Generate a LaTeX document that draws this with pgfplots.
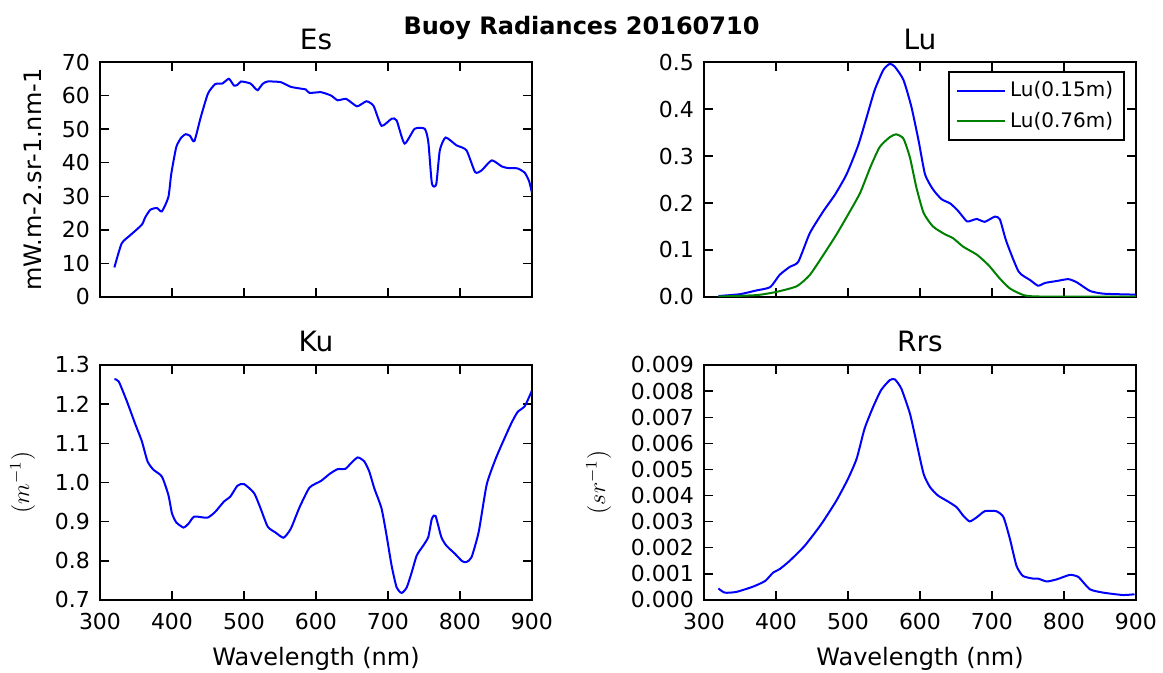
\documentclass[border=0pt]{standalone}
\usepackage{fontspec}
\setmainfont{DejaVu Sans}
\usepackage{pgfplots}
\pgfplotsset{compat=1.18}

\definecolor{mplblue}{rgb}{0,0,1}
\definecolor{mplgreen}{rgb}{0,0.5,0}

\pgfplotsset{
  panel/.style={
    scale only axis,
    width=216pt, height=117.5pt,
    anchor=south west,
    axis line style={black, line width=0.9pt},
    tick align=inside,
    tick pos=both,
    major tick length=4.5pt,
    every tick/.style={black, line width=0.7pt},
    xmin=300, xmax=900,
    xtick={300,400,...,900},
    ticklabel style={font=\fontsize{11}{13}\selectfont},
    /pgf/number format/assume math mode=true,
    every axis title shift=0pt,
    title style={font=\fontsize{14}{16}\selectfont, anchor=base, yshift=6.5pt},
    label style={font=\fontsize{12}{14}\selectfont},
    xticklabel style={/pgf/number format/1000 sep={}, yshift=-3pt},
    yticklabel style={xshift=-1.5pt},
    xlabel style={yshift=-2pt},
    ylabel style={yshift=3pt},
    every axis plot/.append style={line width=1pt, smooth, tension=0.35},
  }
}

\begin{document}
\begin{tikzpicture}[x=1pt,y=1pt]
\useasboundingbox (0,0) rectangle (581.5,336.5);

\node[anchor=base, font=\bfseries\fontsize{12}{14}\selectfont] at (290.75,319) {Buoy Radiances 20160710};

% Es
\begin{axis}[panel, at={(50pt,188pt)}, title={Es},
  ymin=0, ymax=70, ytick={0,10,...,70},
  xticklabels={},
  ylabel={mW.m-2.sr-1.nm-1}]
\addplot[mplblue] coordinates {
(320,8.8)(330,15.9)(342,18.4)(358,21.5)(363,23.8)(370,26)(379,26.5)(386,25.5)(395,29.8)(399,36.7)(406,44.7)(413,47.5)(419,48.5)(425,48)(431,46.4)(440,53.6)(450,60.6)(460,63.4)(470,63.6)(479,65)(486,63)(491,63.2)(496,64.2)(509,63.6)(514,62.5)(519,61.6)(526,63.5)(533,64.2)(551,64)(565,62.6)(581,62)(586,61.8)(591,60.8)(607,61)(621,60)(630,58.6)(642,59)(657,56.8)(670,58.3)(680,56.9)(691,51)(705,53.1)(712,52.6)(723,45.7)(737,50.1)(751,50.1)(756,46.2)(761,33.8)(767,33.6)(772,43.7)(780,47.5)(795,45.2)(809,43.7)(821,37.2)(830,37.7)(844,40.7)(858,38.9)(867,38.4)(880,38.3)(890,37)(896,34.5)(900,31)
};
\end{axis}

% Lu
\begin{axis}[panel, at={(352pt,188pt)}, title={Lu},
  ymin=0, ymax=0.5, ytick={0,0.1,...,0.5},
  yticklabel style={/pgf/number format/.cd, fixed, fixed zerofill, precision=1},
  xticklabels={},
  legend style={at={(1,1)}, anchor=north east, xshift=-5.5pt, yshift=-4.5pt,
    draw=black, line width=0.8pt, font=\fontsize{10}{12}\selectfont,
    inner xsep=3.5pt, inner ysep=3pt, row sep=2pt},
  legend cell align=left,
  legend image code/.code={\draw[#1, line width=1pt] (0pt,0pt) -- (16pt,0pt);
    \path (0pt,0pt) -- (24pt,0pt);}]
\addplot[mplblue] coordinates {
(320,0.002)(350,0.006)(373,0.014)(392,0.021)(405,0.047)(419,0.064)(431,0.075)(447,0.136)(466,0.183)(482,0.218)(498,0.261)(514,0.322)(526,0.383)(537,0.44)(549,0.483)(558,0.496)(565,0.49)(577,0.462)(588,0.405)(598,0.333)(607,0.261)(618,0.229)(630,0.208)(642,0.199)(653,0.183)(665,0.161)(672,0.163)(679,0.166)(690,0.16)(704,0.171)(711,0.165)(720,0.118)(737,0.054)(753,0.036)(764,0.024)(774,0.03)(790,0.034)(806,0.038)(818,0.031)(836,0.013)(855,0.007)(900,0.005)
};
\addlegendentry{Lu(0.15m)}
\addplot[mplgreen] coordinates {
(320,0.001)(373,0.004)(401,0.011)(429,0.023)(447,0.047)(466,0.09)(484,0.133)(503,0.183)(517,0.222)(531,0.276)(544,0.319)(558,0.34)(567,0.346)(577,0.337)(586,0.297)(595,0.233)(605,0.179)(618,0.15)(634,0.134)(646,0.125)(660,0.107)(679,0.09)(695,0.068)(711,0.039)(725,0.018)(744,0.004)(767,0.001)(900,0.001)
};
\addlegendentry{Lu(0.76m)}
\end{axis}

% Ku
\begin{axis}[panel, at={(50pt,36.5pt)}, title={Ku},
  ymin=0.7, ymax=1.3, ytick={0.7,0.8,...,1.3},
  yticklabel style={/pgf/number format/.cd, fixed, fixed zerofill, precision=1},
  xlabel={Wavelength (nm)},
  ylabel={$(m^{-1})$}]
\addplot[mplblue] coordinates {
(320,1.264)(326,1.258)(337,1.209)(349,1.149)(358,1.106)(366,1.054)(374,1.033)(386,1.015)(395,0.968)(400,0.921)(406,0.898)(416,0.885)(423,0.895)(431,0.913)(449,0.910)(460,0.925)(472,0.951)(481,0.964)(491,0.992)(500,0.996)(514,0.973)(523,0.934)(533,0.887)(544,0.872)(555,0.859)(565,0.882)(577,0.936)(591,0.987)(607,1.004)(619,1.022)(630,1.034)(641,1.035)(649,1.05)(658,1.064)(667,1.054)(674,1.028)(681,0.985)(691,0.934)(698,0.865)(705,0.788)(712,0.732)(719,0.718)(726,0.732)(733,0.771)(740,0.814)(749,0.839)(756,0.861)(761,0.908)(766,0.915)(774,0.861)(781,0.839)(793,0.818)(803,0.799)(809,0.797)(816,0.809)(826,0.874)(837,0.994)(849,1.058)(858,1.097)(871,1.150)(880,1.18)(890,1.195)(900,1.235)
};
\end{axis}

% Rrs
\begin{axis}[panel, at={(352pt,36.5pt)}, title={Rrs},
  ymin=0, ymax=0.009, ytick={0,0.001,...,0.0095},
  scaled y ticks=false,
  yticklabel style={/pgf/number format/.cd, fixed, fixed zerofill, precision=3},
  xlabel={Wavelength (nm)},
  ylabel={$(sr^{-1})$}]
\addplot[mplblue] coordinates {
(320,0.00044)(329,0.00028)(345,0.00031)(368,0.00051)(385,0.00073)(396,0.00105)(405,0.00118)(419,0.0015)(440,0.00208)(463,0.00291)(484,0.00381)(500,0.00464)(512,0.00541)(523,0.00656)(535,0.0074)(546,0.00804)(558,0.00842)(565,0.00845)(574,0.0081)(586,0.00714)(595,0.00605)(605,0.00483)(614,0.00432)(625,0.004)(639,0.00377)(651,0.00355)(660,0.00323)(669,0.00301)(679,0.00317)(690,0.0034)(706,0.0034)(716,0.00317)(725,0.00233)(734,0.00131)(743,0.00092)(757,0.00082)(764,0.00082)(776,0.00071)(790,0.00079)(808,0.00096)(820,0.00088)(836,0.00041)(855,0.00028)(882,0.00019)(898,0.00022)
};
\end{axis}
\end{tikzpicture}
\end{document}
